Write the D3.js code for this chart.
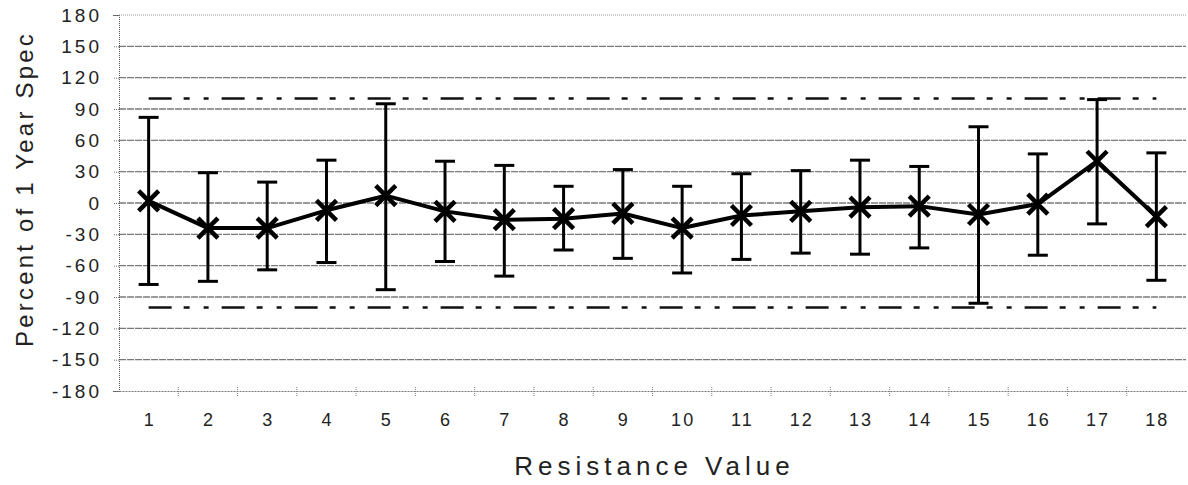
<!DOCTYPE html>
<html>
<head>
<meta charset="utf-8">
<script src="https://cdn.jsdelivr.net/npm/d3@7"></script>
<style>
  html, body { margin: 0; padding: 0; background: #fff; }
  svg { display: block; font-family: "Liberation Sans", Arial, sans-serif; }
</style>
</head>
<body>
<svg id="chart" width="1188" height="485"></svg>
<script>
// Resistance values 1..18
const categories = ["1","2","3","4","5","6","7","8","9","10","11","12","13","14","15","16","17","18"];
// Mean deviation, percent of 1-year spec
const means = [2, -24, -24, -7, 7, -8, -16, -15, -10, -24, -12, -8, -4, -3, -11, -1, 40, -13];
// Upper / lower error bar ends
const upper = [82, 29, 20, 41, 95, 40, 36, 16, 32, 16, 28, 31, 41, 35, 73, 47, 99, 48];
const lower = [-78, -75, -64, -57, -83, -56, -70, -45, -53, -67, -54, -48, -49, -43, -96, -50, -20, -74];
// Spec limits
const specLimits = [100, -100];
// Y axis ticks
const yTicks = [180, 150, 120, 90, 60, 30, 0, -30, -60, -90, -120, -150, -180];

const svg = d3.select("#chart");
const margin = { left: 119, right: 2, top: 15, bottom: 94 };
const W = 1188, H = 485;

const x = d3.scaleBand().domain(categories).range([margin.left, W - margin.right]).padding(0);
const y = d3.scaleLinear().domain([-180, 180]).range([H - margin.bottom, margin.top]);
const cx = c => x(c) + x.bandwidth() / 2;

// Horizontal gridlines
svg.append("g").selectAll("line")
  .data(yTicks.filter(t => t !== 180 && t !== -180))
  .join("line")
  .attr("x1", margin.left).attr("x2", W - margin.right)
  .attr("y1", d => y(d)).attr("y2", d => y(d))
  .attr("stroke", "#7a7a7a").attr("stroke-width", 1.4)
  .attr("stroke-dasharray", "7,1");

// Top border
svg.append("line")
  .attr("x1", margin.left).attr("x2", W - margin.right)
  .attr("y1", y(180)).attr("y2", y(180))
  .attr("stroke", "#999").attr("stroke-width", 1).attr("stroke-dasharray", "1,1");

// Y axis
const yAxis = d3.axisLeft(y).tickValues(yTicks).tickSize(6).tickPadding(11)
  .tickFormat(d => String(d));
const gy = svg.append("g").attr("transform", `translate(${margin.left},0)`).call(yAxis);
gy.select(".domain").attr("stroke", "#555").attr("stroke-dasharray", "1,1");
gy.selectAll(".tick line").attr("stroke", "#777").attr("stroke-dasharray", "1,1");
gy.selectAll(".tick text").attr("font-size", 19).attr("fill", "#222")
  .attr("letter-spacing", 3);

// X axis with ticks between categories
const xAxis = d3.axisBottom(x).tickSize(0).tickPadding(22);
const gx = svg.append("g").attr("transform", `translate(0,${y(-180)})`).call(xAxis);
gx.select(".domain").attr("stroke", "#777").attr("stroke-dasharray", "2,1");
gx.selectAll(".tick text").attr("font-size", 18).attr("fill", "#222")
  .attr("letter-spacing", 2).attr("dx", 1);
gx.selectAll(".sep")
  .data(categories.slice(1))
  .join("line")
  .attr("class", "sep")
  .attr("x1", d => x(d)).attr("x2", d => x(d))
  .attr("y1", -4).attr("y2", 5)
  .attr("stroke", "#777").attr("stroke-dasharray", "1,1");

// Spec limit lines (dash-dot-dot)
svg.append("g").selectAll("line")
  .data(specLimits)
  .join("line")
  .attr("x1", cx(categories[0])).attr("x2", cx(categories[categories.length - 1]))
  .attr("y1", d => y(d)).attr("y2", d => y(d))
  .attr("stroke", "#111").attr("stroke-width", 2.5)
  .attr("stroke-dasharray", "23,12,6,14,5,13");

// Error bars
const eb = svg.append("g").attr("stroke", "#000");
eb.selectAll("line.v")
  .data(categories)
  .join("line").attr("class", "v")
  .attr("x1", cx).attr("x2", cx)
  .attr("y1", (d, i) => y(upper[i])).attr("y2", (d, i) => y(lower[i]))
  .attr("stroke-width", 3);
eb.selectAll("line.capU")
  .data(categories)
  .join("line").attr("class", "capU")
  .attr("x1", d => cx(d) - 10).attr("x2", d => cx(d) + 10)
  .attr("y1", (d, i) => y(upper[i])).attr("y2", (d, i) => y(upper[i]))
  .attr("stroke-width", 3);
eb.selectAll("line.capL")
  .data(categories)
  .join("line").attr("class", "capL")
  .attr("x1", d => cx(d) - 10).attr("x2", d => cx(d) + 10)
  .attr("y1", (d, i) => y(lower[i])).attr("y2", (d, i) => y(lower[i]))
  .attr("stroke-width", 3);

// Mean line
const line = d3.line().x((d, i) => cx(categories[i])).y(d => y(d));
svg.append("path")
  .datum(means)
  .attr("d", line)
  .attr("fill", "none").attr("stroke", "#000").attr("stroke-width", 4)
  .attr("stroke-linejoin", "round");

// X markers
const r = 10;
const mk = svg.append("g").selectAll("g")
  .data(means)
  .join("g")
  .attr("transform", (d, i) => `translate(${cx(categories[i])},${y(d)})`);
mk.append("path")
  .attr("d", `M${-r},${-r}L${r},${r}M${-r},${r}L${r},${-r}`)
  .attr("stroke", "#000").attr("stroke-width", 4.5).attr("stroke-linecap", "butt");

// Axis titles
svg.append("text")
  .attr("transform", `translate(33,${(y(180) + y(-180)) / 2 - 14}) rotate(-90)`)
  .attr("text-anchor", "middle")
  .attr("font-size", 24).attr("letter-spacing", 3.2).attr("fill", "#222")
  .text("Percent of 1 Year Spec");

svg.append("text")
  .attr("x", (margin.left + W - margin.right) / 2 + 2).attr("y", 475)
  .attr("text-anchor", "middle")
  .attr("font-size", 26).attr("letter-spacing", 5).attr("fill", "#222")
  .text("Resistance Value");
</script>
</body>
</html>
